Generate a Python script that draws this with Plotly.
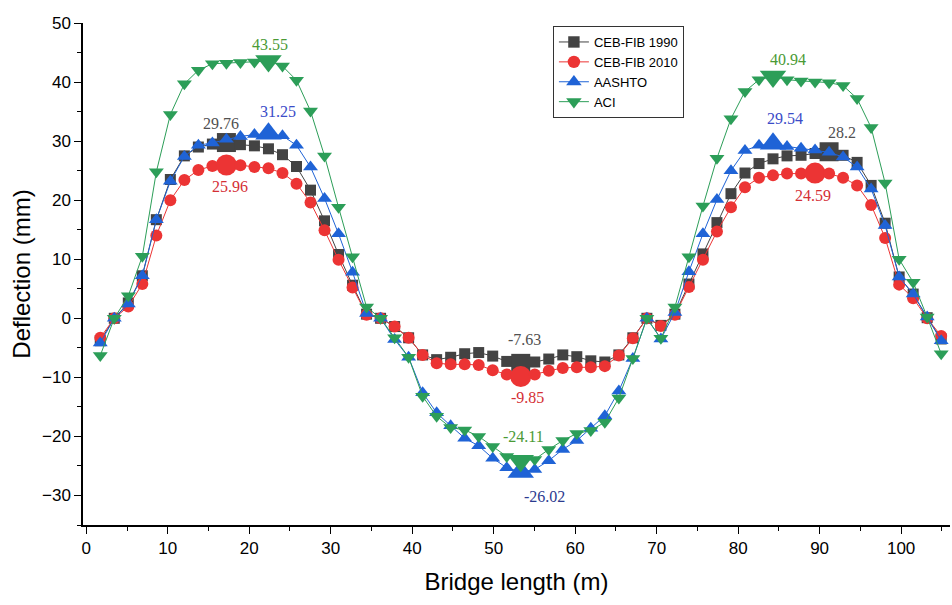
import plotly.graph_objects as go

# Bridge length positions (m)
x_pos = [1.72, 3.44, 5.16, 6.88, 8.6, 10.32, 12.04, 13.76, 15.48, 17.2,
         18.92, 20.64, 22.36, 24.08, 25.8, 27.52, 29.24, 30.96, 32.68, 34.4,
         36.12, 37.84, 39.56, 41.28, 43.0, 44.72, 46.44, 48.16, 49.88, 51.6,
         53.32, 55.04, 56.76, 58.48, 60.2, 61.92, 63.64, 65.36, 67.08, 68.8,
         70.52, 72.24, 73.96, 75.68, 77.4, 79.12, 80.84, 82.56, 84.28, 86.0,
         87.72, 89.44, 91.16, 92.88, 94.6, 96.32, 98.04, 99.76, 101.48, 103.2,
         104.92]

ceb1990 = [-3.8, 0.0, 2.6, 7.2, 16.7, 23.5, 27.5, 29.0, 29.5, 29.76,
           29.4, 29.2, 28.7, 27.7, 25.7, 21.7, 16.5, 10.8, 5.6, 0.7,
           0.0, -1.4, -3.3, -6.2, -7.0, -6.6, -6.0, -5.8, -6.4, -7.3,
           -7.63, -7.4, -6.9, -6.2, -6.5, -7.2, -7.4, -6.2, -3.3, 0.0,
           -1.2, 0.7, 5.8, 10.9, 16.2, 21.1, 24.6, 26.2, 27.0, 27.5,
           27.6, 27.9, 28.2, 27.6, 26.4, 22.5, 16.1, 7.0, 4.1, 0.1,
           -3.5]

ceb2010 = [-3.3, 0.0, 2.0, 5.8, 14.0, 20.0, 23.4, 25.1, 25.8, 25.96,
           25.9, 25.6, 25.4, 24.6, 22.8, 19.6, 14.9, 9.9, 5.2, 0.6,
           0.0, -1.4, -3.3, -6.2, -7.6, -7.8, -7.8, -7.9, -8.8, -9.5,
           -9.85, -9.5, -8.9, -8.4, -8.3, -8.3, -8.1, -6.3, -3.4, 0.0,
           -1.3, 0.6, 5.3, 9.9, 14.7, 18.8, 22.2, 23.8, 24.2, 24.5,
           24.5, 24.59, 24.5, 23.8, 22.5, 19.2, 13.6, 5.7, 3.4, 0.0,
           -3.0]

aashto = [-4.2, 0.0, 2.4, 7.2, 16.7, 23.2, 27.4, 29.3, 29.7, 30.3,
          30.8, 31.1, 31.25, 30.9, 29.3, 25.6, 20.3, 14.3, 7.8, 0.8,
          0.0, -3.6, -6.6, -12.6, -16.0, -18.2, -20.3, -21.6, -23.7, -25.3,
          -26.02, -25.6, -24.1, -22.2, -20.7, -18.6, -16.5, -12.3, -6.8, 0.0,
          -3.5, 1.0, 7.9, 14.3, 20.1, 25.0, 28.4, 29.3, 29.54, 29.1,
          28.8, 28.5, 28.1, 27.3, 25.6, 21.9, 15.7, 7.0, 4.1, 0.2,
          -3.8]

aci = [-6.3, 0.0, 3.8, 10.5, 24.8, 34.5, 39.7, 42.0, 43.1, 43.2,
       43.3, 43.4, 43.55, 42.7, 40.3, 35.1, 27.5, 18.8, 10.4, 1.9,
       0.0, -3.3, -6.6, -13.2, -16.6, -18.5, -18.9, -20.0, -21.7, -23.4,
       -24.11, -23.9, -22.2, -20.7, -19.5, -19.0, -17.6, -13.5, -6.8, 0.0,
       -3.4, 1.9, 10.4, 19.0, 27.1, 33.8, 38.4, 40.4, 40.94, 40.4,
       40.2, 40.0, 39.9, 39.4, 37.2, 32.3, 22.9, 10.0, 6.1, 0.2,
       -6.0]

series_names = ["CEB-FIB 1990", "CEB-FIB 2010", "AASHTO", "ACI"]
# indices (0-based) of the labelled extreme points in each series
peak_idx = {
    "CEB-FIB 1990": [9, 30, 52],
    "CEB-FIB 2010": [9, 30, 51],
    "AASHTO": [12, 30, 48],
    "ACI": [12, 30, 48],
}

data_map = {"CEB-FIB 1990": ceb1990, "CEB-FIB 2010": ceb2010,
            "AASHTO": aashto, "ACI": aci}
colors = {"CEB-FIB 1990": "#434343", "CEB-FIB 2010": "#ec3434",
          "AASHTO": "#1f63d6", "ACI": "#2c9e58"}
symbols = {"CEB-FIB 1990": "square", "CEB-FIB 2010": "circle",
           "AASHTO": "triangle-up", "ACI": "triangle-down"}
base_size = {"CEB-FIB 1990": 11, "CEB-FIB 2010": 12,
             "AASHTO": 13, "ACI": 13}
big_size = {"CEB-FIB 1990": 19, "CEB-FIB 2010": 21,
            "AASHTO": 23, "ACI": 23}
label_colors = {"CEB-FIB 1990": "#505050", "CEB-FIB 2010": "#d42f35",
                "AASHTO": "#3a4cc8", "ACI": "#4a9a35"}
# pixel offsets of the value labels relative to their points
label_offsets = {
    ("CEB-FIB 1990", 9): (-5, 19), ("CEB-FIB 1990", 30): (4, 24), ("CEB-FIB 1990", 52): (13, 19),
    ("CEB-FIB 2010", 9): (4, -22), ("CEB-FIB 2010", 30): (7, -21), ("CEB-FIB 2010", 51): (-2, -22),
    ("AASHTO", 12): (10, 22), ("AASHTO", 30): (24, -25), ("AASHTO", 48): (12, 25),
    ("ACI", 12): (2, 17), ("ACI", 30): (3, 24), ("ACI", 48): (15, 17),
}

fig = go.Figure()
annotations = []
for name in series_names:
    ys = data_map[name]
    sizes = [big_size[name] if i in peak_idx[name] else base_size[name]
             for i in range(len(ys))]
    fig.add_trace(go.Scatter(
        x=x_pos, y=ys, name=name, mode="lines+markers",
        line=dict(color=colors[name], width=1),
        marker=dict(symbol=symbols[name], size=sizes, color=colors[name],
                    opacity=1, line=dict(width=0)),
    ))
    for i in peak_idx[name]:
        dx, dy = label_offsets[(name, i)]
        annotations.append(dict(
            x=x_pos[i], y=ys[i], xref="x", yref="y", text=f"{ys[i]:g}",
            showarrow=False, xshift=dx, yshift=dy,
            font=dict(family="Liberation Serif", size=16,
                      color=("#2b3a8f" if (name == "AASHTO" and ys[i] < 0)
                             else label_colors[name])),
        ))

axis_common = dict(
    showline=True, linecolor="black", linewidth=1.5, mirror=False,
    showgrid=False, zeroline=False, ticks="outside", ticklen=7,
    tickwidth=1.2, tickcolor="black", automargin=False,
    tickfont=dict(family="Liberation Sans", size=17, color="black"),
)

fig.update_layout(
    width=952, height=605,
    margin=dict(l=83, r=2, t=23, b=80),
    paper_bgcolor="white", plot_bgcolor="white",
    font=dict(family="Liberation Sans", color="black"),
    xaxis=dict(range=[-0.4, 106], tickmode="array",
               tickvals=[0, 10, 20, 30, 40, 50, 60, 70, 80, 90, 100],
               minor=dict(ticks="outside", ticklen=4, dtick=5, tick0=0,
                          tickcolor="black"),
               title=dict(text="Bridge length (m)",
                          font=dict(family="Liberation Sans", size=24),
                          standoff=16),
               **axis_common),
    yaxis=dict(range=[-35, 50], tickmode="array",
               tickvals=[-30, -20, -10, 0, 10, 20, 30, 40, 50],
               minor=dict(ticks="outside", ticklen=4, dtick=5, tick0=0,
                          tickcolor="black"),
               title=dict(text="Deflection (mm)",
                          font=dict(family="Liberation Sans", size=24),
                          standoff=5),
               **axis_common),
    legend=dict(x=0.542, y=0.994, xanchor="left", yanchor="top",
                bordercolor="#333333", borderwidth=1, bgcolor="white",
                font=dict(family="Liberation Sans", size=13),
                tracegroupgap=0, itemwidth=30),
    annotations=annotations,
    showlegend=True,
)

fig.write_html("out.html",
               config={"displayModeBar": False},
               post_script="document.body.style.margin='0';")
